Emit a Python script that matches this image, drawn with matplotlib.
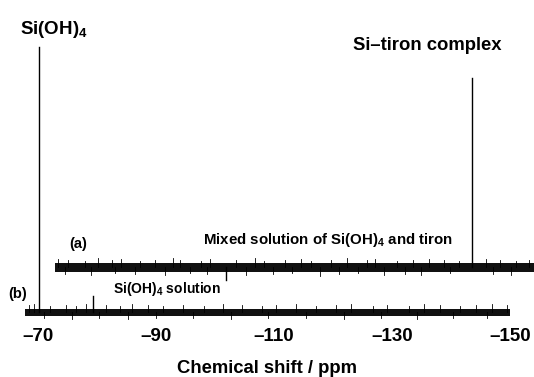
import matplotlib
matplotlib.use("Agg")
import matplotlib.pyplot as plt

plt.rcParams['font.family'] = ['Liberation Sans', 'DejaVu Sans']
plt.rcParams['font.weight'] = 'bold'
plt.rcParams['mathtext.fontset'] = 'custom'
plt.rcParams['mathtext.rm'] = 'Liberation Sans:bold'
plt.rcParams['mathtext.bf'] = 'Liberation Sans:bold'

# spectrum (a): mixed solution of Si(OH)4 and tiron
a_range = [-72.9, -154.0]          # ppm span of the recorded trace
a_offset = 45                       # vertical offset of trace (a)
a_noise = 4.5                       # half width of the noise band
a_peak_ppm = [-143.6, -101.9]
a_peak_int = [189, -13]
a_up_ppm = [-73.4, -75.1, -77.9, -80.2, -82.6, -84.0, -87.3, -89.9, -92.8, -94.1,
            -97.6, -99.2, -103.5, -106.8, -108.3, -111.9, -114.6, -116.2, -119.7,
            -122.4, -125.8, -127.1, -130.9, -133.5, -136.2, -138.8, -141.4, -145.9,
            -148.3, -151.0, -153.2]
a_up_int = [8, 7, 6, 9, 7, 8, 6, 7, 9, 7, 6, 8, 7, 9, 6, 7, 8, 6, 7, 9, 7, 8, 6, 7,
            8, 7, 6, 8, 7, 6, 7]
a_dn_ppm = [-74.6, -79.0, -83.1, -86.4, -91.5, -95.8, -98.7, -105.2, -109.9, -113.0,
            -117.8, -121.1, -124.3, -128.6, -132.2, -135.0, -139.9, -147.1, -150.2]
a_dn_int = [-7, -8, -6, -7, -8, -6, -7, -8, -7, -6, -9, -7, -6, -8, -7, -8, -6, -7, -8]

# spectrum (b): Si(OH)4 solution
b_range = [-67.8, -150.0]
b_offset = 0
b_noise = 3.5
b_peak_ppm = [-70.2, -79.3]
b_peak_int = [265, 16]
b_up_ppm = [-68.4, -69.3, -72.1, -74.7, -76.5, -78.2, -81.6, -83.9, -86.0, -88.7,
            -91.2, -94.5, -98.1, -101.3, -104.6, -107.9, -110.4, -113.8, -117.1,
            -120.5, -123.0, -126.7, -129.2, -132.8, -135.4, -138.1, -141.6, -144.3,
            -147.0, -149.5]
b_up_int = [7, 8, 6, 7, 6, 8, 7, 6, 8, 7, 6, 7, 6, 8, 7, 6, 7, 8, 6, 7, 8, 6, 7, 6,
            8, 7, 6, 7, 8, 7]
b_dn_ppm = [-71.0, -75.8, -80.4, -85.2, -90.0, -96.3, -102.7, -109.0, -115.5, -121.8,
            -128.1, -134.2, -140.4, -146.1]
b_dn_int = [-6, -7, -6, -7, -6, -6, -7, -6, -6, -7, -6, -7, -6, -6]

ticks = [-70, -90, -110, -130, -150]

fig = plt.figure(figsize=(5.34, 3.77), dpi=100)
ax = fig.add_axes([0, 55 / 377, 1, 322 / 377])


def draw_trace(rng, off, noise, pk_x, pk_y, up_x, up_y, dn_x, dn_y):
    ax.fill_between(rng, [off - noise] * 2, [off + noise] * 2, color='#111111', lw=0)
    for x, h in zip(pk_x, pk_y):
        ax.plot([x, x], [off, off + h], color='black', lw=1.0)
    for x, h in zip(up_x + dn_x, up_y + dn_y):
        ax.plot([x, x], [off, off + h], color='black', lw=0.6)


draw_trace(a_range, a_offset, a_noise, a_peak_ppm, a_peak_int,
           a_up_ppm, a_up_int, a_dn_ppm, a_dn_int)
draw_trace(b_range, b_offset, b_noise, b_peak_ppm, b_peak_int,
           b_up_ppm, b_up_int, b_dn_ppm, b_dn_int)

ax.set_xlim(-63.56, -154.07)
ax.set_ylim(-10, 312)
ax.set_xticks(ticks)
ax.set_xticklabels([str(t).replace('-', '\u2013') for t in ticks])
ax.tick_params(axis='x', length=0, pad=4, labelsize=13.5)
ax.set_yticks([])
for s in ax.spines.values():
    s.set_visible(False)
ax.set_xlabel('Chemical shift / ppm', fontsize=13.3, fontweight='bold', labelpad=11)

ax.text(-72.7, 283, 'Si(OH)$_4$', fontsize=13.5, ha='center', va='center')
ax.text(-136.0, 267, 'Si\u2013tiron complex', fontsize=13.3, ha='center', va='center')
ax.text(-76.8, 68, '(a)', fontsize=10.5, ha='center', va='center')
ax.text(-119.1, 72, 'Mixed solution of Si(OH)$_4$ and tiron', fontsize=10.8,
        ha='center', va='center')
ax.text(-66.6, 18, '(b)', fontsize=10.5, ha='center', va='center')
ax.text(-91.8, 23, 'Si(OH)$_4$ solution', fontsize=10, ha='center', va='center')

fig.savefig('out.png', dpi=100)
